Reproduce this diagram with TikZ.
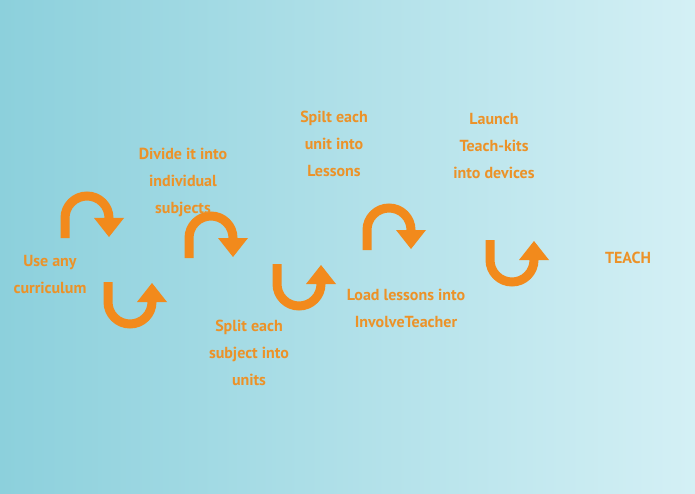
\documentclass[tikz,border=0pt]{standalone}
\usepackage{fontspec}
\setmainfont{PT Sans}
\definecolor{arrowor}{RGB}{242,138,28}
\definecolor{textor}{RGB}{236,146,40}
\definecolor{bgleft}{RGB}{140,208,220}
\definecolor{bgright}{RGB}{212,240,245}
\tikzset{
  label/.style={text=textor, align=center, font=\bfseries\fontsize{16}{27}\selectfont},
  overarrow/.pic={
    \draw[arrowor, line width=9pt] (-22,20) -- (-22,0) arc (180:360:22) -- (22,2);
    \fill[arrowor] (7,0) -- (37,0) -- (22,19) -- cycle;
  },
  underarrow/.pic={
    \draw[arrowor, line width=9pt] (-22,-20) -- (-22,0) arc (180:0:22) -- (22,-2);
    \fill[arrowor] (7,0) -- (37,0) -- (22,-19) -- cycle;
  }
}
\begin{document}
\begin{tikzpicture}[x=1pt, y=-1pt]
	% fond
	\shade[left color=bgleft, right color=bgright] (0,0) rectangle (695,494);
	\useasboundingbox (0,0) rectangle (695,494);

	% fleches
	\pic at (87,218) {overarrow};
	\pic at (130,302) {underarrow};
	\pic at (211,238) {overarrow};
	\pic at (299,284) {underarrow};
	\pic at (389,230) {overarrow};
	\pic at (512,260) {underarrow};

	% textes
	\node[label] (curriculum) at (50,275) {Use any\\curriculum};
	\node[label] (divide) at (183,182) {Divide it into\\individual\\subjects};
	\node[label] (units) at (249,353) {Split each\\subject into\\units};
	\node[label] (lessons) at (334,144) {Spilt each\\unit into\\Lessons};
	\node[label] (load) at (406,308) {Load lessons into\\InvolveTeacher};
	\node[label] (launch) at (494,146) {Launch\\Teach-kits\\into devices};
	\node[label] (teach) at (628,258) {TEACH};
\end{tikzpicture}
\end{document}
